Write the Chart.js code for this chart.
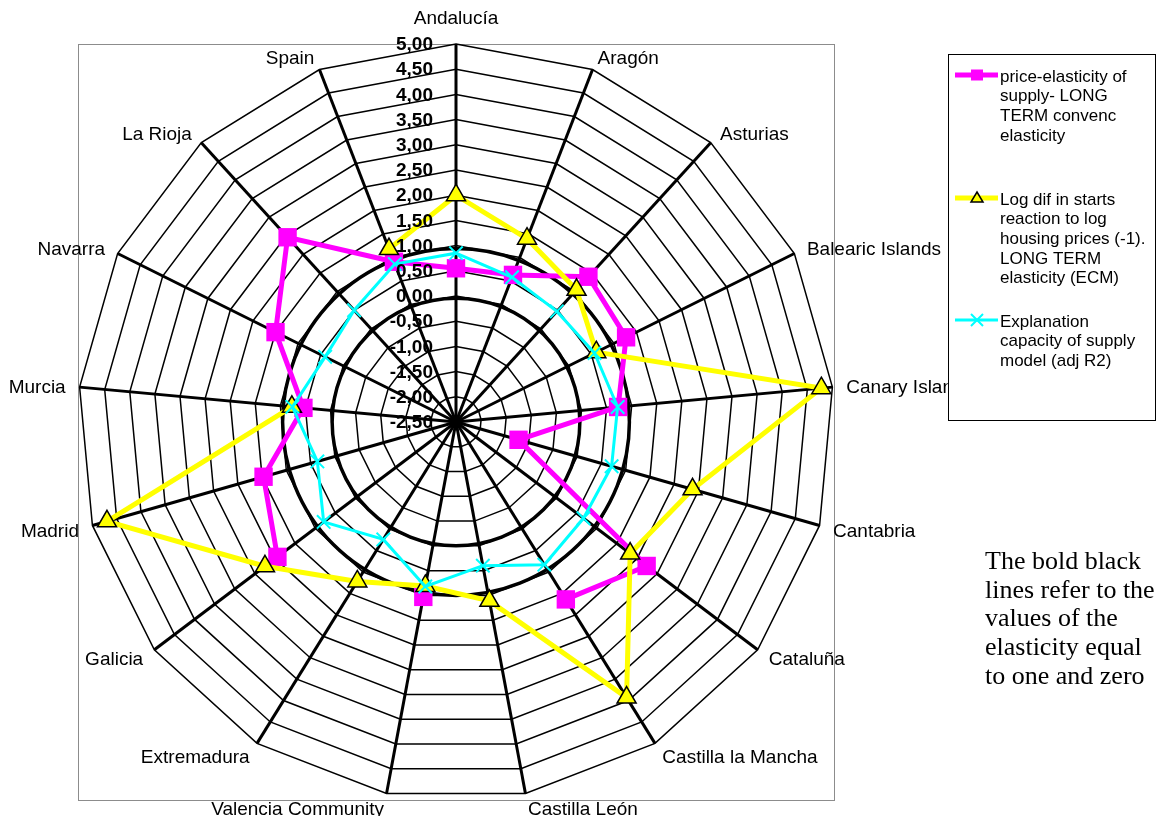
<!DOCTYPE html>
<html>
<head>
<meta charset="utf-8">
<script src="https://cdn.jsdelivr.net/npm/chart.js@4.4.0/dist/chart.umd.min.js"></script>
<style>
body{margin:0;background:#fff;}
#wrap{width:1169px;height:816px;}
</style>
</head>
<body>
<div id="wrap"><canvas id="myChart" width="1169" height="816"></canvas></div>
<script>
const regions = ['Andalucía', 'Aragón', 'Asturias', 'Balearic Islands', 'Canary Islands', 'Cantabria',
    'Cataluña', 'Castilla la Mancha', 'Castilla León', 'Valencia Community', 'Extremadura', 'Galicia',
    'Madrid', 'Murcia', 'Navarra', 'La Rioja', 'Spain']

// values, null = no point drawn
const priceElasticity = [0.55, 0.63, 1.40, 1.27, 0.73, -1.21, 2.24, 1.64, null, 1.03, null, 1.94, 1.47, 0.54, 1.50, 2.46, 0.91]
const ecmElasticity = [2.00, 1.40, 1.05, 0.61, 4.78, 2.38, 1.83, 3.93, 1.11, 0.81, 1.22, 2.25, 4.70, 0.77, null, null, 1.18]
const adjR2 = [0.85, 0.58, 0.47, 0.57, 0.72, 0.71, 0.67, 0.83, 0.40, 0.82, 0.24, 0.79, 0.36, 0.76, 0.40, 0.50, 0.86]

const tickLabels = ['-2,50', '-2,00', '-1,50', '-1,00', '-0,50', '0,00', '0,50', '1,00',
    '1,50', '2,00', '2,50', '3,00', '3,50', '4,00', '4,50', '5,00']
const boldValues = [0, 1]

const legendText = [
    ['price-elasticity of', 'supply- LONG', 'TERM convenc', 'elasticity'],
    ['Log dif in starts', 'reaction to log', 'housing prices (-1).', 'LONG TERM', 'elasticity (ECM)'],
    ['Explanation', 'capacity of supply', 'model (adj R2)']
]
const noteLines = ['The bold black', 'lines refer to the', 'values of the', 'elasticity equal', 'to one and zero']

const sansFont = "'Liberation Sans', Arial, sans-serif"

function drawMarker(ctx, style, x, y){
    /**small markers for the legend box */
    ctx.save()
    if (style === 'rect'){
        ctx.fillStyle = '#ff00ff'
        ctx.fillRect(x - 6, y - 5.5, 12, 11)
    } else if (style === 'triangle'){
        ctx.fillStyle = '#ffff00'
        ctx.strokeStyle = '#000'
        ctx.lineWidth = 1.5
        ctx.beginPath()
        ctx.moveTo(x, y - 6)
        ctx.lineTo(x + 6, y + 4)
        ctx.lineTo(x - 6, y + 4)
        ctx.closePath()
        ctx.fill()
        ctx.stroke()
    } else {
        ctx.strokeStyle = '#00ffff'
        ctx.lineWidth = 2
        ctx.beginPath()
        ctx.moveTo(x - 6, y - 6); ctx.lineTo(x + 6, y + 6)
        ctx.moveTo(x + 6, y - 6); ctx.lineTo(x - 6, y + 6)
        ctx.stroke()
    }
    ctx.restore()
}

const extras = {
    id: 'extras',
    beforeDraw(chart){
        const {ctx, chartArea} = chart
        ctx.save()
        ctx.fillStyle = '#fff'
        ctx.fillRect(0, 0, chart.width, chart.height)
        // plot area frame
        ctx.strokeStyle = '#8c8c8c'
        ctx.lineWidth = 1
        ctx.strokeRect(chartArea.left + 0.5, chartArea.top + 0.5, chartArea.width, chartArea.height)
        ctx.restore()
    },
    beforeDatasetsDraw(chart){
        // bold rings at elasticity 0 and 1
        const {ctx} = chart
        const r = chart.scales.r
        ctx.save()
        ctx.strokeStyle = '#000'
        ctx.lineWidth = 3.5
        boldValues.forEach(v => {
            const d = r.getDistanceFromCenterForValue(v) * Math.cos(Math.PI / regions.length)
            ctx.beginPath()
            ctx.arc(r.xCenter, r.yCenter, d, 0, Math.PI * 2)
            ctx.stroke()
        })
        ctx.restore()
    },
    afterDatasetsDraw(chart){
        // tick labels to the left of the top spoke
        const {ctx} = chart
        const r = chart.scales.r
        ctx.save()
        ctx.font = 'bold 19px ' + sansFont
        ctx.fillStyle = '#000'
        ctx.textAlign = 'right'
        ctx.textBaseline = 'middle'
        r.ticks.forEach((t, i) => {
            const y = r.yCenter - r.getDistanceFromCenterForValue(t.value)
            ctx.fillText(t.label || tickLabels[i], r.xCenter - 23, y + 1)
        })
        ctx.restore()
    },
    afterDraw(chart){
        const {ctx} = chart
        const r = chart.scales.r
        ctx.save()
        // category labels
        ctx.font = '19px ' + sansFont
        ctx.fillStyle = '#000'
        regions.forEach((name, i) => {
            const p = r.getPointPosition(i, r.drawingArea + 14)
            const s = Math.sin(i * 2 * Math.PI / regions.length)
            let y = p.y
            if (Math.abs(s) < 0.05){
                ctx.textAlign = 'center'
                ctx.textBaseline = p.y < r.yCenter ? 'bottom' : 'top'
                y -= 2
            } else {
                ctx.textAlign = s > 0 ? 'left' : 'right'
                ctx.textBaseline = 'middle'
                y += 2
            }
            ctx.fillText(name, p.x, y)
        })

        // legend box (covers the end of the Canary Islands label)
        const bx = 948, by = 54, bw = 207, bh = 366
        ctx.fillStyle = '#fff'
        ctx.fillRect(bx, by, bw, bh)
        ctx.strokeStyle = '#000'
        ctx.lineWidth = 1
        ctx.strokeRect(bx + 0.5, by + 0.5, bw, bh)
        const sets = chart.data.datasets
        const itemY = [77, 200, 322]
        ctx.font = '17px ' + sansFont
        ctx.textAlign = 'left'
        ctx.textBaseline = 'middle'
        sets.forEach((ds, k) => {
            const ly = itemY[k] - 2
            ctx.strokeStyle = ds.borderColor
            ctx.lineWidth = ds.borderWidth
            ctx.beginPath()
            ctx.moveTo(955, ly)
            ctx.lineTo(998, ly)
            ctx.stroke()
            drawMarker(ctx, ds.pointStyle, 977, ly)
            ctx.fillStyle = '#000'
            legendText[k].forEach((line, j) => {
                ctx.fillText(line, 1000, itemY[k] + j * 19.7)
            })
        })

        // note on the right
        ctx.font = "26px 'Liberation Serif', 'Times New Roman', serif"
        ctx.fillStyle = '#000'
        noteLines.forEach((line, j) => {
            ctx.fillText(line, 985, 562 + j * 28.7)
        })
        ctx.restore()
    }
}

const ctx = document.getElementById('myChart')
let myChart = new Chart(ctx, {
    type: 'radar',
    data: {
        labels: regions,
        datasets: [{
            label: legendText[0].join(' '),
            data: priceElasticity,
            borderColor: '#ff00ff',
            borderWidth: 5,
            pointStyle: 'rect',
            pointRadius: 13,
            pointBackgroundColor: '#ff00ff',
            pointBorderColor: '#ff00ff',
            pointBorderWidth: 0,
            fill: false,
            spanGaps: false,
            order: 3
        }, {
            label: legendText[1].join(' '),
            data: ecmElasticity,
            borderColor: '#ffff00',
            borderWidth: 5,
            pointStyle: 'triangle',
            pointRadius: 11,
            pointBackgroundColor: '#ffff00',
            pointBorderColor: '#000',
            pointBorderWidth: 1.5,
            fill: false,
            spanGaps: false,
            order: 2
        }, {
            label: legendText[2].join(' '),
            data: adjR2,
            borderColor: '#00ffff',
            borderWidth: 3,
            pointStyle: 'crossRot',
            pointRadius: 9.5,
            pointBackgroundColor: '#00ffff',
            pointBorderColor: '#00ffff',
            pointBorderWidth: 2,
            fill: false,
            spanGaps: false,
            order: 1
        }]
    },
    options: {
        responsive: false,
        animation: false,
        layout: {padding: {left: 78, top: 44, right: 335, bottom: 16}},
        elements: {line: {tension: 0}},
        plugins: {
            legend: {display: false},
            tooltip: {enabled: false}
        },
        scales: {
            r: {
                min: -2.5,
                max: 5,
                ticks: {
                    stepSize: 0.5,
                    display: false,
                    callback: (v, i) => tickLabels[i]
                },
                grid: {color: '#000', lineWidth: 1.5},
                angleLines: {color: '#000', lineWidth: 3},
                pointLabels: {display: false}
            }
        }
    },
    plugins: [extras]
});
</script>
</body>
</html>
